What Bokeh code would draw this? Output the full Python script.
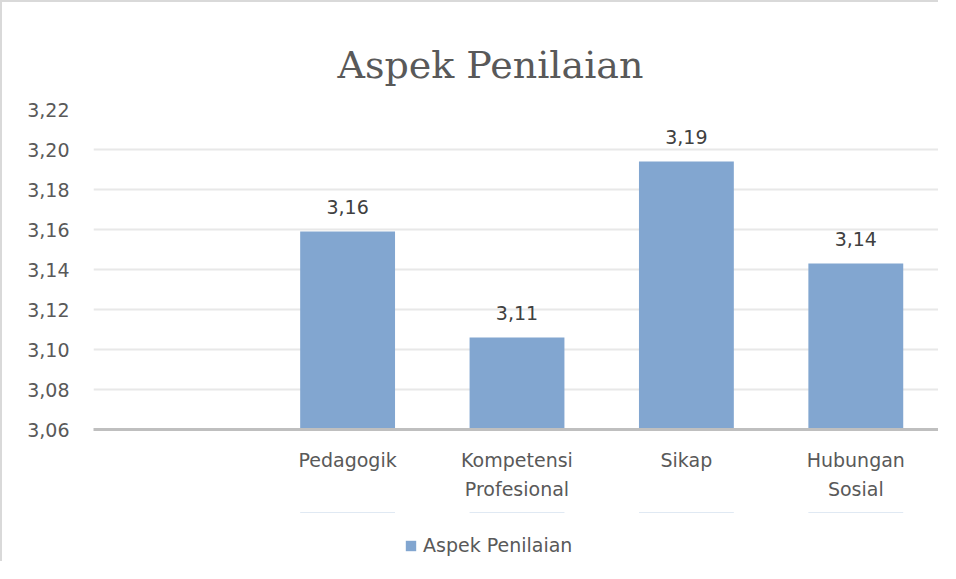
from bokeh.plotting import figure
from bokeh.layouts import column
from bokeh.models import (ColumnDataSource, FactorRange, Range1d, FixedTicker,
                          CustomJSTickFormatter, LabelSet, Legend, LegendItem, Label)
from bokeh.core.properties import value
from bokeh.embed import file_html
from bokeh.resources import INLINE

# ---- data ----
categories = [" ", "Pedagogik", "Kompetensi\nProfesional", "Sikap", "Hubungan\nSosial"]
bar_categories = ["Pedagogik", "Kompetensi\nProfesional", "Sikap", "Hubungan\nSosial"]
values = [3.159, 3.106, 3.194, 3.143]
y_ticks = [3.06, 3.08, 3.10, 3.12, 3.14, 3.16, 3.18, 3.20, 3.22]
series_name = "Aspek Penilaian"
title_text = "Aspek Penilaian"

labels = [f"{v:.2f}".replace(".", ",") for v in values]
source = ColumnDataSource(dict(cat=bar_categories, top=values, label=labels,
                               bottom=[y_ticks[0]] * len(values)))

FONT = "DejaVu Sans"
GREY = "#595959"
BAR = "#82a6d0"
BORDER = "2px solid #d9d9d9"


def strip(height, x_range):
    f = figure(x_range=x_range, y_range=Range1d(0, 1), width=938, height=height,
               x_axis_type=None, y_axis_type=None, output_backend="svg",
               toolbar_location=None, min_border_left=91, min_border_right=0,
               min_border_top=0, min_border_bottom=0)
    f.grid.grid_line_color = None
    f.outline_line_color = None
    f.border_fill_color = "white"
    f.background_fill_color = "white"
    f.styles = {"border-left": BORDER}
    return f


# ---- title strip ----
t = strip(95, Range1d(0, 1))
t.styles = {"border-left": BORDER, "border-top": BORDER}
t.add_layout(Label(x=244, y=33, x_units="screen", y_units="screen", text=title_text,
                   text_font="DejaVu Serif", text_font_size="38px",
                   text_color=GREY, text_baseline="alphabetic", text_align="left"))

# ---- main chart ----
p = figure(x_range=FactorRange(*categories), y_range=Range1d(y_ticks[0], y_ticks[-1]),
           width=938, height=417, output_backend="svg", toolbar_location=None,
           min_border_left=91, min_border_right=0, min_border_bottom=83, min_border_top=14)
p.outline_line_color = None
p.background_fill_color = "white"
p.border_fill_color = "white"
p.styles = {"border-left": BORDER}

p.vbar(x="cat", top="top", bottom="bottom", width=0.56, source=source,
       fill_color=BAR, line_color=None)

p.add_layout(LabelSet(x="cat", y="top", text="label", source=source,
                      text_align="center", text_baseline="bottom", y_offset=18,
                      text_font_size="19px", text_color="#404040", text_font=value(FONT)))

p.yaxis.ticker = FixedTicker(ticks=y_ticks)
p.yaxis.formatter = CustomJSTickFormatter(code="return tick.toFixed(2).replace('.', ',');")
p.yaxis.axis_line_color = None
p.yaxis.major_tick_line_color = None
p.yaxis.minor_tick_line_color = None
p.yaxis.major_label_text_font = FONT
p.yaxis.major_label_text_font_size = "19px"
p.yaxis.major_label_text_color = GREY
p.yaxis.major_label_standoff = 18

p.xaxis.axis_line_color = "#bfbfbf"
p.xaxis.axis_line_width = 3
p.xaxis.major_tick_line_color = None
p.xaxis.minor_tick_line_color = None
p.xaxis.major_label_text_font = FONT
p.xaxis.major_label_text_font_size = "19px"
p.xaxis.major_label_text_color = GREY
p.xaxis.major_label_standoff = 13
p.xaxis.major_label_text_line_height = 1.35

p.xgrid.grid_line_color = None
p.ygrid.grid_line_color = "#e8e8e8"
p.ygrid.grid_line_width = 2

# ---- legend strip ----
q = strip(49, FactorRange(*categories))
lr = q.vbar(x="cat", top="top", bottom="bottom", width=0.56, source=source,
            fill_color=BAR, line_color=None)  # same series; lies outside this strip's view
legend = Legend(items=[LegendItem(label=series_name, renderers=[lr])],
                location=(311, 5), orientation="horizontal",
                padding=0, margin=0, spacing=0, border_line_color=None,
                background_fill_alpha=0, glyph_width=13, glyph_height=13,
                label_standoff=6, label_text_font=FONT, label_text_font_size="19px",
                label_text_color=GREY)
q.add_layout(legend)

layout = column(t, p, q, spacing=0)
open("out.html", "w").write(file_html(layout, INLINE))
